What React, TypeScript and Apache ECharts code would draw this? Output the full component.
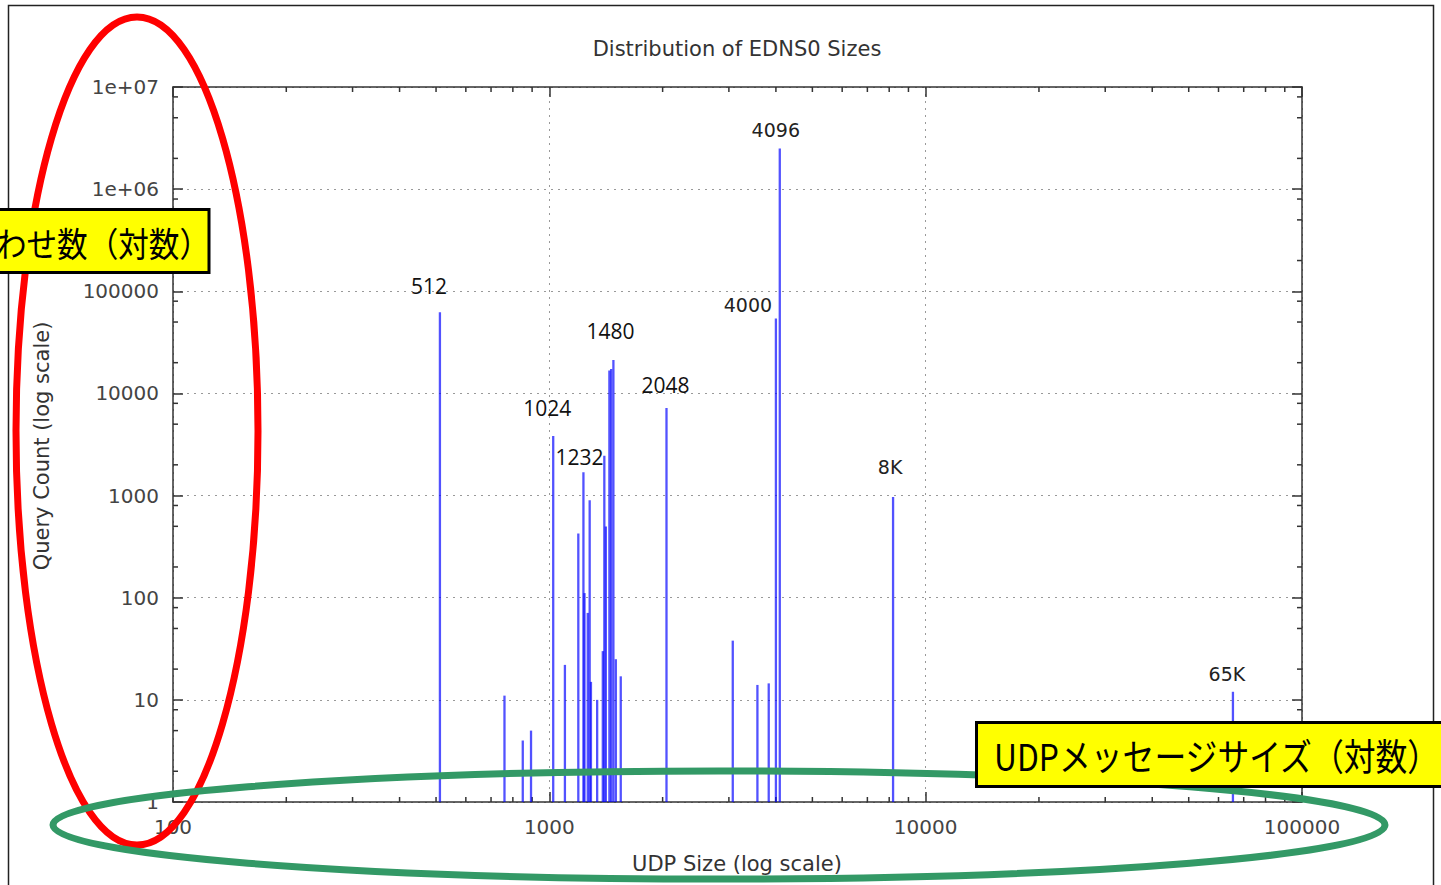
import React, { useEffect, useRef } from 'react';
import * as echarts from 'echarts';

// ---- data ----
const udpSizes = [512, 760, 850, 894, 1024, 1100, 1194, 1232, 1240, 1265, 1280, 1290, 1340, 1387, 1400, 1413, 1444, 1460, 1480, 1502, 1548, 2048, 3072, 3572, 3828, 4000, 4096, 8192, 65535];
const queryCounts = [62500, 11, 4, 5, 3840, 22, 425, 1695, 111, 71, 901, 15, 10, 30, 2450, 497, 16750, 17300, 21300, 25, 17, 7180, 38, 14, 14.5, 54200, 2500000, 970, 12];

const peakSizes = [512, 1024, 1232, 1480, 2048, 4000, 4096, 8192, 65535];
const peakCounts = [62500, 3840, 1695, 21300, 7180, 54200, 2500000, 970, 12];
const peakTexts = ['512', '1024', '1232', '1480', '2048', '4000', '4096', '8K', '65K'];

const xTickLabels: Record<string, string> = { '100': '100', '1000': '1000', '10000': '10000', '100000': '100000' };
const yTickLabels = ['1', '10', '100', '1000', '10000', '100000', '1e+06', '1e+07'];

const xMinorTicks = [200, 300, 400, 500, 600, 700, 800, 900, 2000, 3000, 4000, 5000, 6000, 7000, 8000, 9000, 20000, 30000, 40000, 50000, 60000, 70000, 80000, 90000];
const yMinorTicks = [2, 5, 8, 20, 50, 80, 200, 500, 800, 2000, 5000, 8000, 20000, 50000, 80000, 200000, 500000, 800000, 2000000, 5000000, 8000000];

const titleText = 'Distribution of EDNS0 Sizes';
const xName = 'UDP Size (log scale)';
const yName = 'Query Count (log scale)';
const noteY = '問い合わせ数（対数）';
const noteX = 'UDPメッセージサイズ（対数）';

// ---- styles (label offsets in px relative to the bar top) ----
const labelOffsets = [[-11, -26], [-6, -28], [-4, -15], [-3, -29], [-1, -23], [-28, -13], [-4, -18], [-3, -30], [-6, -18]];
const labelFonts = ['o', 'o', 'o', 'o', 'o', 'd', 'd', 'd', 'd'];

const axisColor = '#333';
const textColor = '#444';

export default function App() {
  const ref = useRef<HTMLDivElement>(null);
  useEffect(() => {
    if (!ref.current) return;
    const chart = echarts.init(ref.current, null, { renderer: 'svg' });

    const baseX = {
      type: 'log' as const,
      logBase: 10,
      min: 100,
      max: 100000,
      axisLine: { show: true, onZero: false, lineStyle: { color: axisColor, width: 1.5 } },
      axisTick: { show: true, inside: true, length: 10, lineStyle: { color: axisColor, width: 1.5 } },
    };
    const baseY = {
      type: 'log' as const,
      logBase: 10,
      min: 1,
      max: 10000000,
      axisLine: { show: true, onZero: false, lineStyle: { color: axisColor, width: 1.5 } },
      axisTick: { show: true, inside: true, length: 10, lineStyle: { color: axisColor, width: 1.5 } },
    };
    const gridLine = { show: true, lineStyle: { color: '#999', width: 1, type: [2, 5] } };

    const option: any = {
      animation: false,
      backgroundColor: '#fff',
      grid: { left: 173, right: 139, top: 87, bottom: 83, containLabel: false },
      xAxis: [
        {
          ...baseX,
          position: 'bottom',
          axisLabel: {
            color: textColor,
            fontFamily: 'DejaVu Sans',
            fontSize: 20,
            margin: 15,
            formatter: (v: number) => xTickLabels[String(Math.round(v))] ?? String(v),
          },
          splitLine: gridLine,
        },
        { ...baseX, position: 'top', axisLabel: { show: false }, splitLine: { show: false } },
      ],
      yAxis: [
        {
          ...baseY,
          position: 'left',
          axisLabel: {
            color: textColor,
            fontFamily: 'DejaVu Sans',
            fontSize: 20,
            margin: 14,
            formatter: (v: number) => yTickLabels[Math.round(Math.log10(v))] ?? String(v),
          },
          splitLine: gridLine,
        },
        { ...baseY, position: 'right', axisLabel: { show: false }, splitLine: { show: false } },
      ],
      series: [
        {
          type: 'custom',
          name: 'ticksX',
          xAxisIndex: 0,
          yAxisIndex: 0,
          silent: true,
          data: xMinorTicks.map((v) => [v, 1]),
          renderItem: (params: any, api: any) => {
            const cs = params.coordSys;
            const p = api.coord([api.value(0), 1]);
            const st = { stroke: axisColor, lineWidth: 1.5 };
            return {
              type: 'group',
              children: [
                { type: 'line', shape: { x1: p[0], y1: cs.y + cs.height, x2: p[0], y2: cs.y + cs.height - 5 }, style: st },
                { type: 'line', shape: { x1: p[0], y1: cs.y, x2: p[0], y2: cs.y + 5 }, style: st },
              ],
            };
          },
        },
        {
          type: 'custom',
          name: 'ticksY',
          xAxisIndex: 0,
          yAxisIndex: 0,
          silent: true,
          data: yMinorTicks.map((v) => [100, v]),
          renderItem: (params: any, api: any) => {
            const cs = params.coordSys;
            const p = api.coord([100, api.value(1)]);
            const st = { stroke: axisColor, lineWidth: 1.5 };
            return {
              type: 'group',
              children: [
                { type: 'line', shape: { x1: cs.x, y1: p[1], x2: cs.x + 5, y2: p[1] }, style: st },
                { type: 'line', shape: { x1: cs.x + cs.width, y1: p[1], x2: cs.x + cs.width - 5, y2: p[1] }, style: st },
              ],
            };
          },
        },
        {
          type: 'custom',
          name: 'EDNS0',
          xAxisIndex: 0,
          yAxisIndex: 0,
          data: udpSizes.map((s, i) => [s, queryCounts[i]]),
          renderItem: (params: any, api: any) => {
            const top = api.coord([api.value(0), api.value(1)]);
            const bottom = api.coord([api.value(0), 1]);
            return {
              type: 'line',
              shape: { x1: top[0], y1: top[1], x2: bottom[0], y2: bottom[1] },
              style: { stroke: 'rgba(0,0,255,0.68)', lineWidth: 2.3 },
            };
          },
          z: 5,
        },
        {
          type: 'custom',
          name: 'labels',
          xAxisIndex: 0,
          yAxisIndex: 0,
          silent: true,
          data: peakSizes.map((s, i) => [s, peakCounts[i], i]),
          renderItem: (params: any, api: any) => {
            const i = api.value(2);
            const p = api.coord([api.value(0), api.value(1)]);
            const off = labelOffsets[i];
            const isO = labelFonts[i] === 'o';
            return {
              type: 'text',
              x: p[0] + off[0],
              y: p[1] + off[1],
              style: {
                text: peakTexts[i],
                fill: isO ? '#111' : '#222',
                font: isO ? '21px "Open Sans"' : '19px "DejaVu Sans"',
                align: 'center',
                verticalAlign: 'middle',
              },
            };
          },
          z: 6,
        },
      ],
      graphic: [
        {
          type: 'rect',
          z: 50,
          shape: { x: 8.5, y: 5.5, width: 1425, height: 900 },
          style: { fill: 'none', stroke: '#222', lineWidth: 1.5 },
        },
        {
          type: 'text',
          z: 50,
          x: 737,
          y: 49,
          style: { text: titleText, font: '21px "DejaVu Sans"', fill: '#333', align: 'center', verticalAlign: 'middle' },
        },
        {
          type: 'text',
          z: 50,
          x: 737,
          y: 864,
          style: { text: xName, font: '21px "DejaVu Sans"', fill: '#333', align: 'center', verticalAlign: 'middle' },
        },
        {
          type: 'text',
          z: 50,
          x: 42,
          y: 446,
          rotation: Math.PI / 2,
          style: { text: yName, font: '21px "DejaVu Sans"', fill: '#333', align: 'center', verticalAlign: 'middle' },
        },
        {
          type: 'ellipse',
          z: 100,
          shape: { cx: 137, cy: 431, rx: 121, ry: 414 },
          style: { fill: 'none', stroke: '#ff0000', lineWidth: 7 },
        },
        {
          type: 'ellipse',
          z: 101,
          shape: { cx: 719, cy: 825, rx: 666, ry: 54 },
          style: { fill: 'none', stroke: '#339966', lineWidth: 7 },
        },
        {
          type: 'rect',
          z: 110,
          shape: { x: -10, y: 209.5, width: 219, height: 63 },
          style: { fill: '#ffff00', stroke: '#000', lineWidth: 3 },
        },
        {
          type: 'text',
          z: 111,
          x: 210,
          y: 242,
          scaleX: 0.9,
          style: { text: noteY, font: '34px "Noto Sans CJK JP"', fill: '#000', align: 'right', verticalAlign: 'middle' },
        },
        {
          type: 'rect',
          z: 110,
          shape: { x: 976.5, y: 722.5, width: 480, height: 64 },
          style: { fill: '#ffff00', stroke: '#000', lineWidth: 3 },
        },
        {
          type: 'text',
          z: 111,
          x: 994,
          y: 755,
          scaleX: 0.86,
          style: { text: noteX, font: '37px "Noto Sans CJK JP"', fill: '#000', align: 'left', verticalAlign: 'middle' },
        },
      ],
    };
    chart.setOption(option);
    return () => chart.dispose();
  }, []);
  return (
    <div
      ref={ref}
      style={{ position: 'absolute', left: 0, top: 0, width: 1441, height: 885, background: '#fff' }}
    />
  );
}
